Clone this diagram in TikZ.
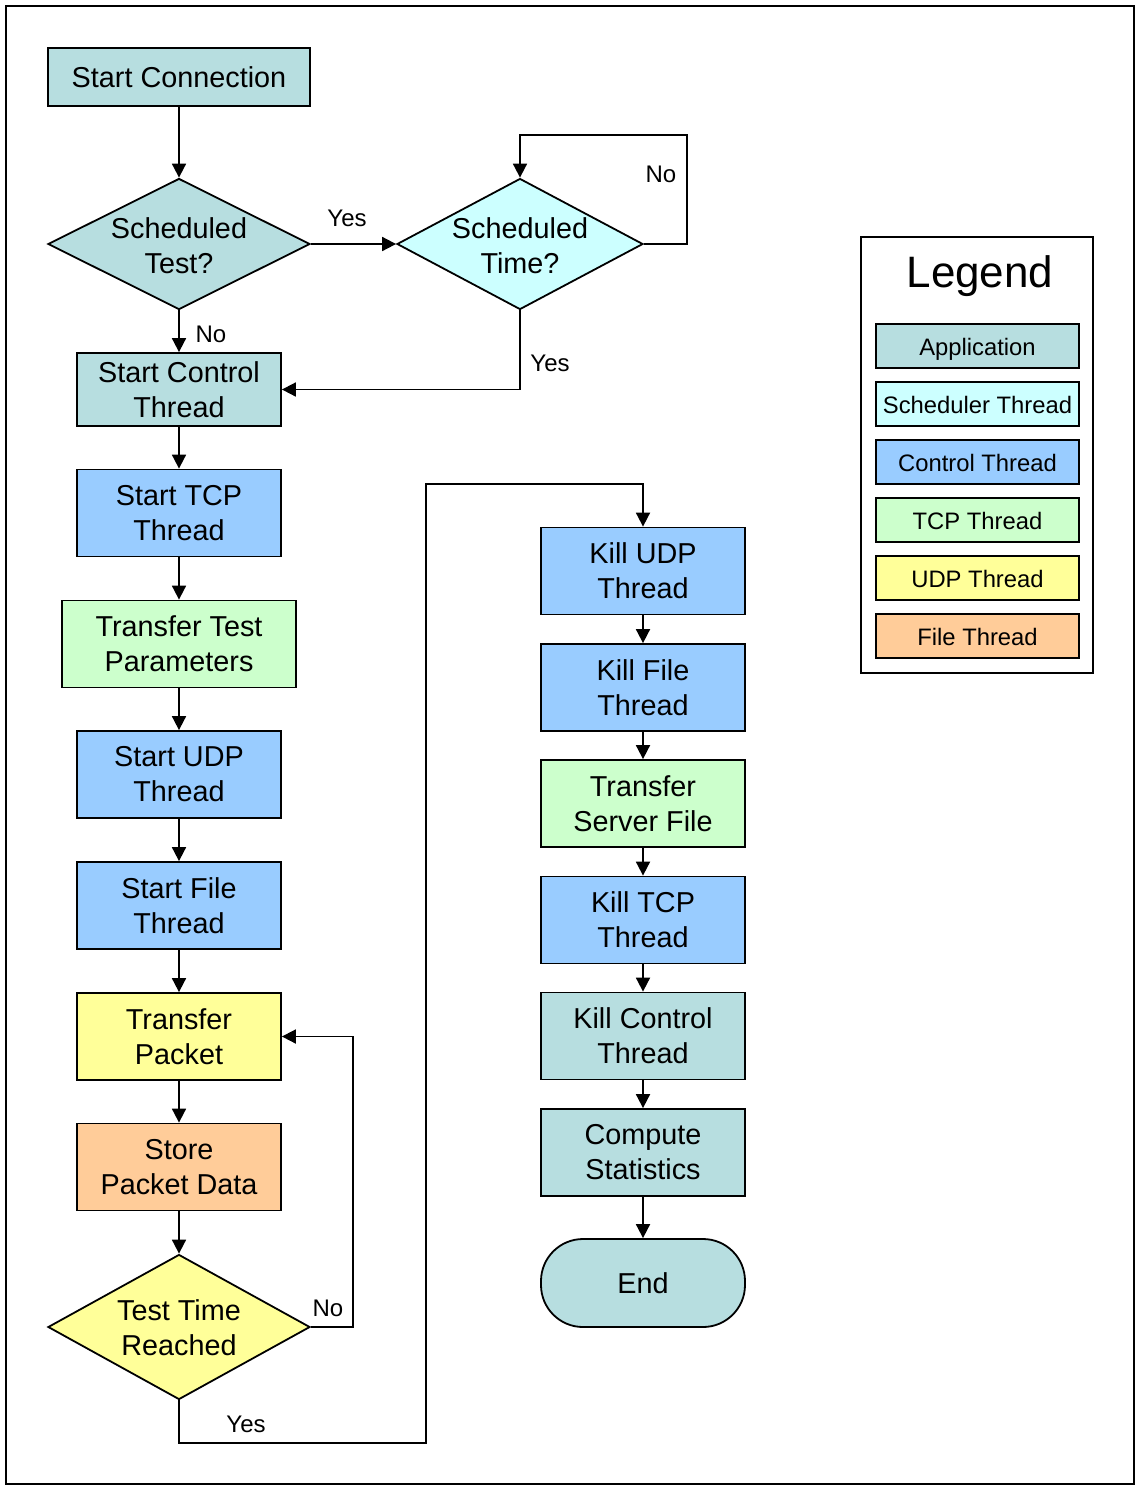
\documentclass[tikz,border=0pt]{standalone}
\usepackage{fontspec}
\setmainfont{Liberation Sans}
\usetikzlibrary{shapes.geometric,arrows.meta}

\definecolor{appC}{RGB}{183,222,224}
\definecolor{schedC}{RGB}{204,255,255}
\definecolor{ctrlC}{RGB}{153,204,255}
\definecolor{tcpC}{RGB}{204,255,204}
\definecolor{udpC}{RGB}{255,255,153}
\definecolor{fileC}{RGB}{255,204,153}

\tikzset{
  boxtext/.style={font=\fontsize{28.8}{35}\selectfont, align=center},
  procbox/.style={boxtext, draw, line width=1.8pt, rectangle,
    minimum width=204pt, minimum height=87pt, inner sep=0pt},
  decbox/.style={draw, line width=1.8pt, diamond, inner sep=0pt,
    minimum width=262pt, minimum height=131pt},
  legbox/.style={draw, line width=1.8pt, rectangle, minimum width=203pt,
    minimum height=44pt, inner sep=0pt, text height=19pt, text depth=0pt,
    font=\fontsize{23.8}{28}\selectfont},
  edgelabel/.style={font=\fontsize{24}{28}\selectfont, inner sep=0pt},
  arr/.style={line width=1.8pt, -{Triangle[width=14pt,length=14pt]}}
}

\begin{document}
\begin{tikzpicture}[x=1pt,y=-1pt]
\useasboundingbox (0,0) rectangle (1136,1486);
\draw[line width=2pt] (6,6) rectangle (1134,1484);

% left column
\node[procbox, fill=appC, minimum width=262pt, minimum height=58pt] (sc) at (179,77) {Start Connection};
\node[decbox, fill=appC] (stest) at (179,244) {};
\node[boxtext] (stestT) at (179,245.5) {Scheduled\\Test?};
\node[decbox, fill=schedC, minimum width=246pt] (stime) at (520,244) {};
\node[boxtext] (stimeT) at (520,245.5) {Scheduled\\Time?};
\node[procbox, fill=appC, minimum height=73pt] (sct) at (179,389.5) {Start Control\\Thread};
\node[procbox, fill=ctrlC] (tcp) at (179,513) {Start TCP\\Thread};
\node[procbox, fill=tcpC, minimum width=234pt] (ttp) at (179,644) {Transfer Test\\Parameters};
\node[procbox, fill=ctrlC] (udp) at (179,774.5) {Start UDP\\Thread};
\node[procbox, fill=ctrlC] (file) at (179,905.5) {Start File\\Thread};
\node[procbox, fill=udpC] (tp) at (179,1036.5) {Transfer\\Packet};
\node[procbox, fill=fileC] (spd) at (179,1167) {Store\\Packet Data};
\node[decbox, fill=udpC, minimum height=145pt] (ttr) at (179,1327) {};
\node[boxtext] (ttrT) at (179,1328) {Test Time\\Reached};

% right column
\node[procbox, fill=ctrlC] (kudp) at (643,571) {Kill UDP\\Thread};
\node[procbox, fill=ctrlC] (kfile) at (643,687.5) {Kill File\\Thread};
\node[procbox, fill=tcpC] (tsf) at (643,803.5) {Transfer\\Server File};
\node[procbox, fill=ctrlC] (ktcp) at (643,920) {Kill TCP\\Thread};
\node[procbox, fill=appC] (kctl) at (643,1036) {Kill Control\\Thread};
\node[procbox, fill=appC] (cs) at (643,1152.5) {Compute\\Statistics};
\node[procbox, fill=appC, rounded corners=42pt, minimum height=88pt] (endn) at (643,1283) {End};

% connectors
\draw[arr] (sc.south) -- (stest.north);
\draw[arr] (stest.east) -- (stime.west);
\coordinate (loopA) at (687,135);
\draw[arr] (stime.east) -| (loopA) -| (stime.north);
\draw[arr] (stest.south) -- (sct.north);
\draw[arr] (stime.south) |- (sct.east);
\draw[arr] (sct) -- (tcp);
\draw[arr] (tcp) -- (ttp);
\draw[arr] (ttp) -- (udp);
\draw[arr] (udp) -- (file);
\draw[arr] (file) -- (tp);
\draw[arr] (tp) -- (spd);
\draw[arr] (spd.south) -- (ttr.north);
\coordinate (noA) at (353,1327);
\draw[arr] (ttr.east) -- (noA) |- (tp.east);
\coordinate (yesA) at (426,1443);
\coordinate (yesB) at (426,484);
\draw[arr] (ttr.south) |- (yesA) -- (yesB) -| (kudp.north);
\draw[arr] (kudp) -- (kfile);
\draw[arr] (kfile) -- (tsf);
\draw[arr] (tsf) -- (ktcp);
\draw[arr] (ktcp) -- (kctl);
\draw[arr] (kctl) -- (cs);
\draw[arr] (cs) -- (endn);

% branch labels
\node[edgelabel] (lyes1) at (347,218) {Yes};
\node[edgelabel] (lno1) at (661,174) {No};
\node[edgelabel] (lno2) at (211,334) {No};
\node[edgelabel] (lyes2) at (550,363) {Yes};
\node[edgelabel] (lno3) at (328,1308) {No};
\node[edgelabel] (lyes3) at (246,1424) {Yes};

% legend
\node[draw, line width=2pt, minimum width=232pt, minimum height=436pt, inner sep=0pt] (leg) at (977,455) {};
\node[font=\fontsize{44}{50}\selectfont] (legT) at (980,276) {Legend};
\node[legbox, fill=appC] (l1) at (977.5,346) {Application};
\node[legbox, fill=schedC] (l2) at (977.5,404) {Scheduler Thread};
\node[legbox, fill=ctrlC] (l3) at (977.5,462) {Control Thread};
\node[legbox, fill=tcpC] (l4) at (977.5,520) {TCP Thread};
\node[legbox, fill=udpC] (l5) at (977.5,578) {UDP Thread};
\node[legbox, fill=fileC] (l6) at (977.5,636) {File Thread};
\end{tikzpicture}
\end{document}
